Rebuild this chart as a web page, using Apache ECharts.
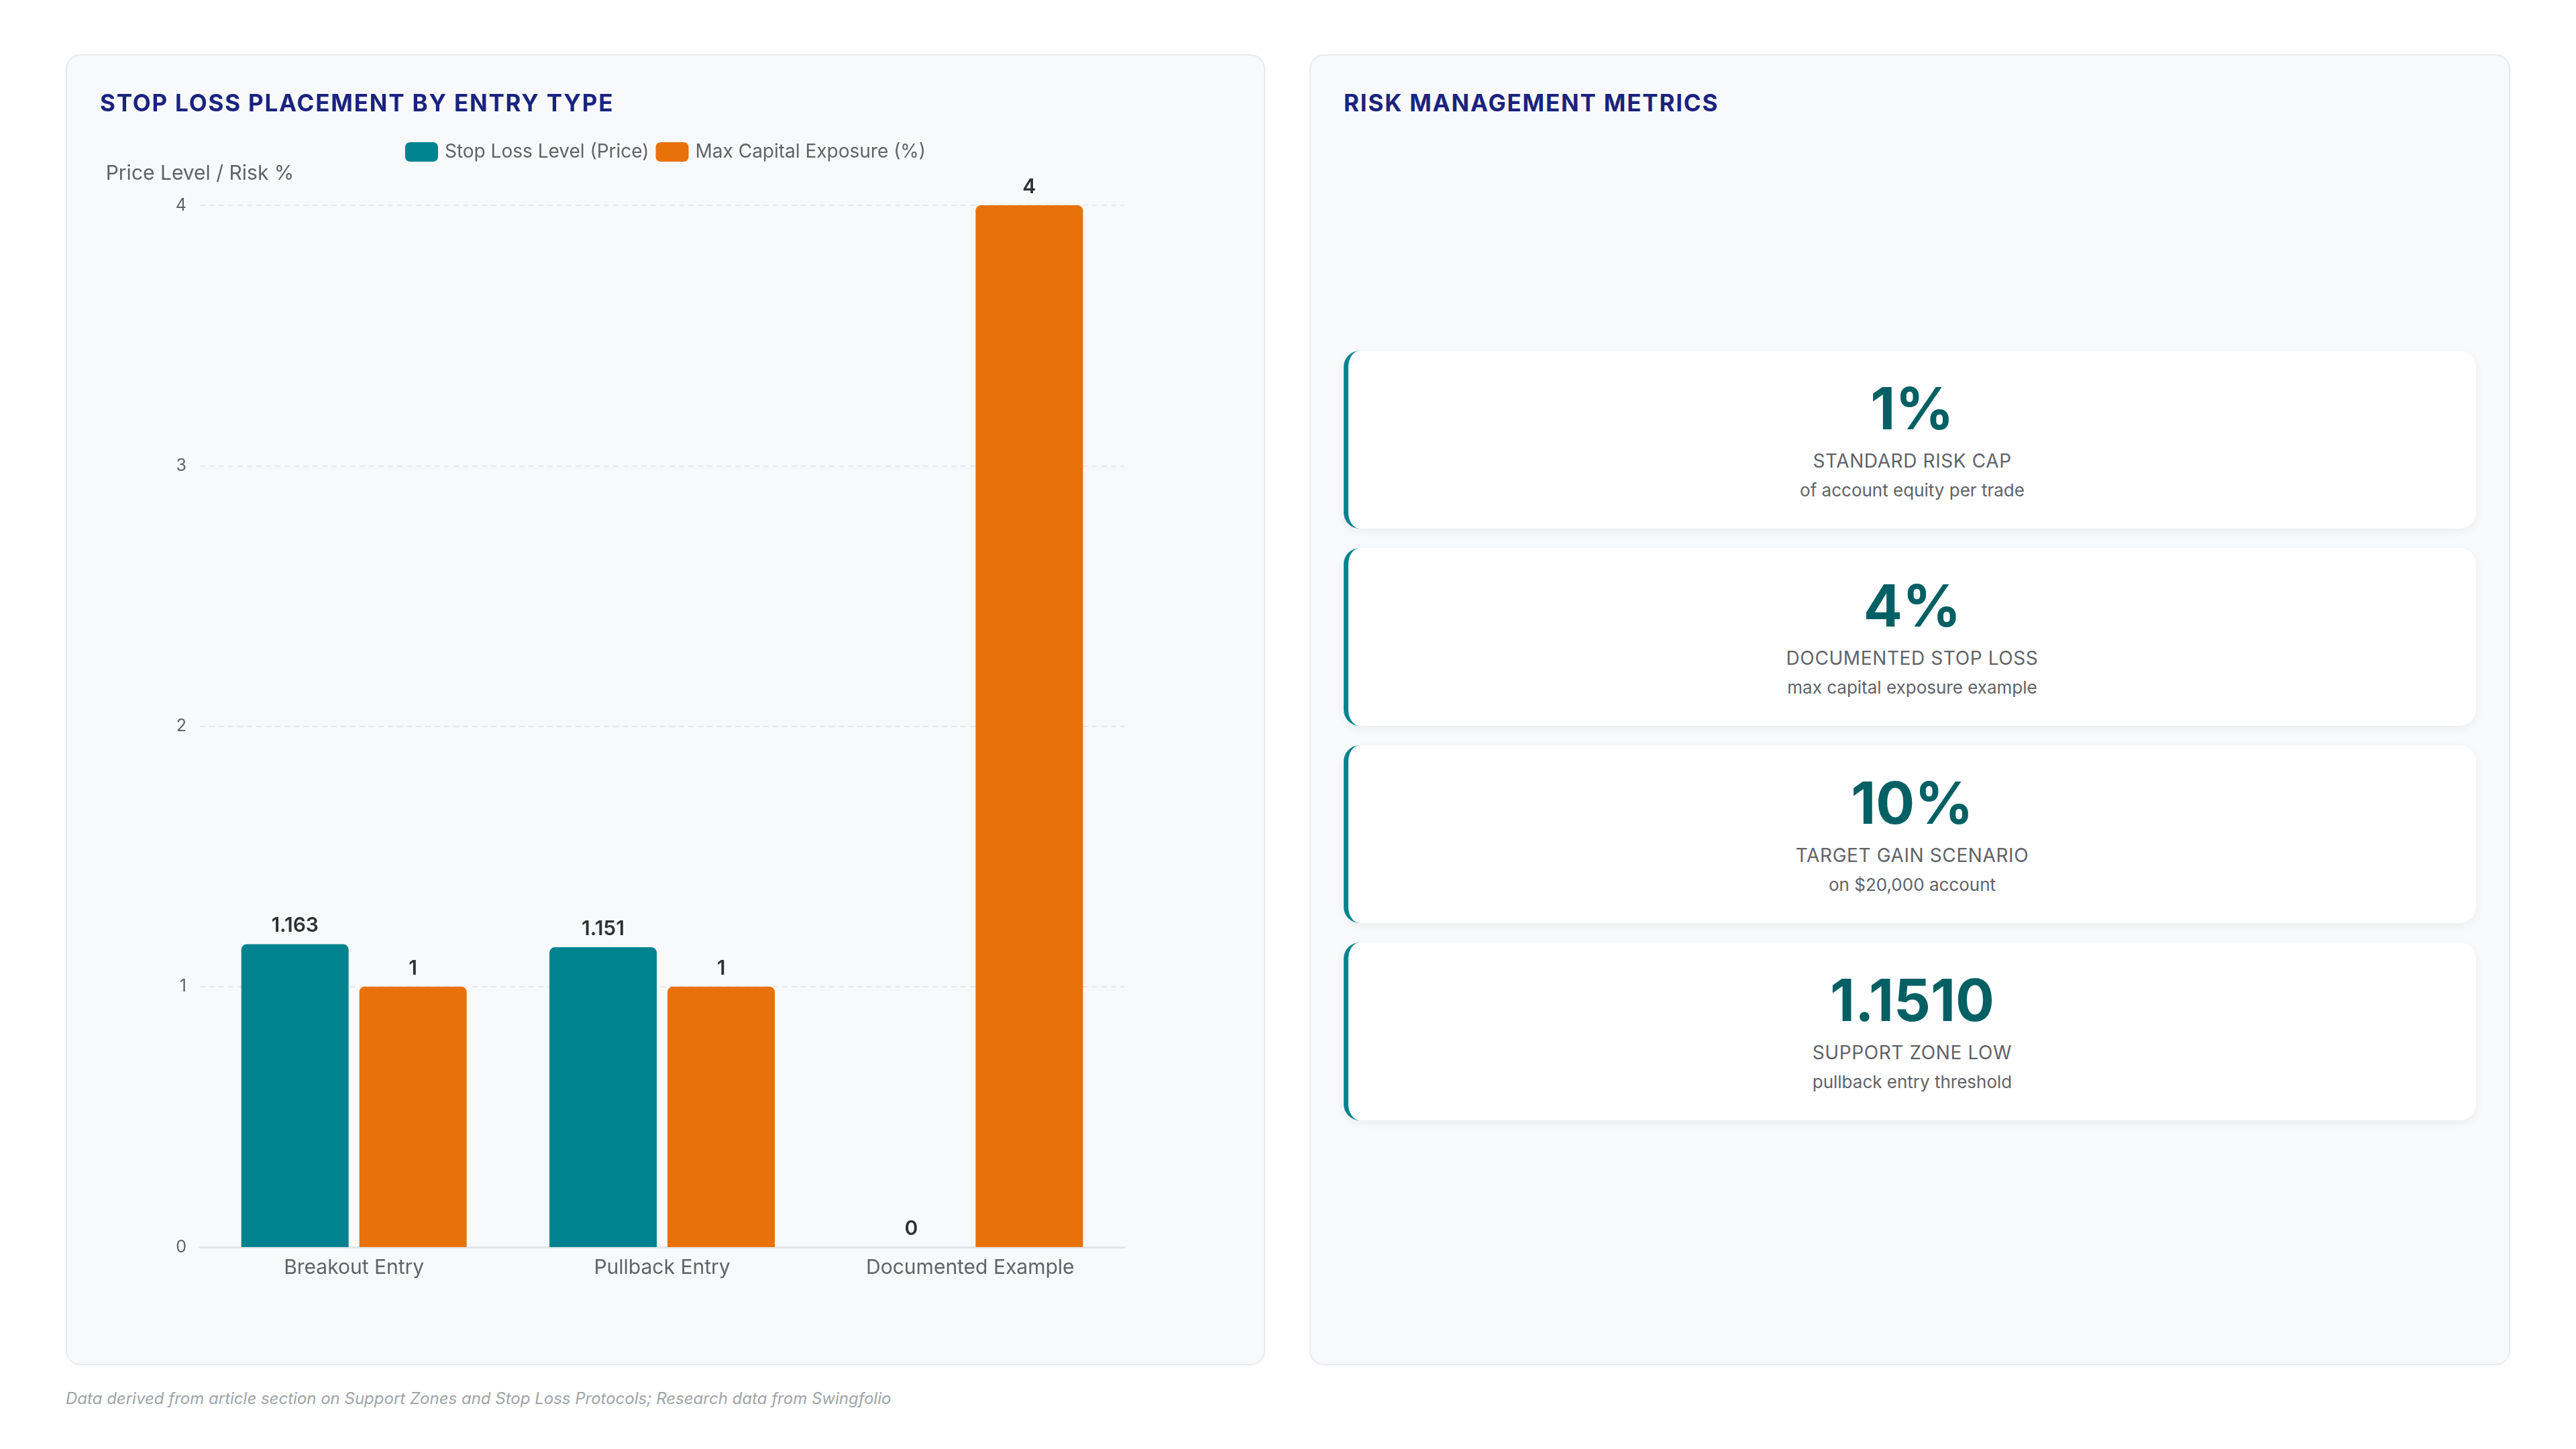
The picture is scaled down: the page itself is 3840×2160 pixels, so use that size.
<!DOCTYPE html>
<html>
<head>
<meta charset="utf-8">
<script src="https://cdn.jsdelivr.net/npm/echarts@6/dist/echarts.min.js"></script>
<style>
    html, body {
        margin: 0;
        padding: 0;
        width: 3840px;
        height: 2160px;
        background: #ffffff;
        font-family: Inter, "Noto Sans", sans-serif;
    }
    .card {
        position: absolute;
        top: 81px;
        height: 1954px;
        box-sizing: border-box;
        background: #f8f9fb;
        border: 2px solid #e8eaed;
        border-radius: 22px;
        box-shadow: 0 2px 6px rgba(0, 0, 0, 0.03);
    }
    #leftCard { left: 98px; width: 1788px; }
    #rightCard { left: 1952px; width: 1790px; }
    .card h2 {
        position: absolute;
        left: 49px;
        top: 70px;
        margin: 0;
        transform: translateY(-50%);
        font-size: 35px;
        font-weight: 700;
        letter-spacing: 1.8px;
        color: #1a237e;
        z-index: 2;
    }
    #chart {
        position: absolute;
        left: 0; top: 0; right: 0; bottom: 0;
    }
    #kpis {
        position: absolute;
        left: 49px;
        right: 49px;
        top: 440px;
    }
    .kpi {
        box-sizing: border-box;
        height: 265px;
        margin-bottom: 29px;
        background: #ffffff;
        border-left: 7px solid #00838f;
        border-radius: 24px;
        box-shadow: 0 4px 14px rgba(0, 0, 0, 0.05);
        text-align: center;
        padding-top: 33px;
    }
    .kpi .value {
        font-size: 86px;
        font-weight: 700;
        line-height: 106px;
        color: #006064;
    }
    .kpi .label {
        margin-top: 6px;
        font-size: 28px;
        line-height: 38px;
        font-weight: 400;
        letter-spacing: 0.6px;
        color: #5f6368;
    }
    .kpi .note {
        margin-top: 7px;
        font-size: 26px;
        line-height: 36px;
        color: #5f6368;
    }
    #footer {
        position: absolute;
        left: 98px;
        top: 2084px;
        transform: translateY(-50%);
        font-size: 24px;
        font-style: italic;
        color: #a0a4a8;
    }
</style>
</head>
<body>
<div class="card" id="leftCard">
    <h2>STOP LOSS PLACEMENT BY ENTRY TYPE</h2>
    <div id="chart"></div>
</div>
<div class="card" id="rightCard">
    <h2>RISK MANAGEMENT METRICS</h2>
    <div id="kpis"></div>
</div>
<div id="footer">Data derived from article section on Support Zones and Stop Loss Protocols; Research data from Swingfolio</div>

<script>
// chart data
const categories = ['Breakout Entry', 'Pullback Entry', 'Documented Example'];
const stopLossLevel = [1.163, 1.151, 0];
const maxCapitalExposure = [1, 1, 4];
const seriesNames = ['Stop Loss Level (Price)', 'Max Capital Exposure (%)'];

// metric cards
const kpiValues = ['1%', '4%', '10%', '1.1510'];
const kpiLabels = ['STANDARD RISK CAP', 'DOCUMENTED STOP LOSS', 'TARGET GAIN SCENARIO', 'SUPPORT ZONE LOW'];
const kpiNotes = ['of account equity per trade', 'max capital exposure example', 'on $20,000 account', 'pullback entry threshold'];

const kpiBox = document.getElementById('kpis');
kpiValues.forEach((v, i) => {
    const el = document.createElement('div');
    el.className = 'kpi';
    el.innerHTML = `<div class="value">${v}</div><div class="label">${kpiLabels[i]}</div><div class="note">${kpiNotes[i]}</div>`;
    kpiBox.appendChild(el);
});

const chart = echarts.init(document.getElementById('chart'));

const barLabel = {
    show: true,
    position: 'top',
    distance: 12,
    fontSize: 30,
    fontWeight: 600,
    color: '#2d3134',
    fontFamily: 'Inter'
};

chart.setOption({
    textStyle: { fontFamily: 'Inter' },
    legend: {
        data: seriesNames,
        top: 124,
        left: 'center',
        itemWidth: 49,
        itemHeight: 29,
        itemGap: 10,
        icon: 'roundRect',
        textStyle: { fontSize: 28, color: '#5f6368', fontFamily: 'Inter', padding: [0, 0, 0, 5] }
    },
    grid: {
        left: 198,
        right: 208,
        top: 223,
        bottom: 174,
        containLabel: false
    },
    xAxis: {
        type: 'category',
        data: categories,
        axisTick: { show: false },
        axisLine: { lineStyle: { color: '#e3e5e8', width: 3 } },
        axisLabel: { fontSize: 30, color: '#5f6368', margin: 16 }
    },
    yAxis: {
        type: 'value',
        min: 0,
        max: 4,
        interval: 1,
        name: 'Price Level / Risk %',
        nameGap: 32,
        nameTextStyle: { fontSize: 30, color: '#5f6368' },
        axisLine: { show: false },
        axisTick: { show: false },
        axisLabel: { fontSize: 25, color: '#5f6368', margin: 20 },
        splitLine: { lineStyle: { color: '#e6e8eb', type: [8, 6], width: 2 } }
    },
    series: [
        {
            name: seriesNames[0],
            type: 'bar',
            data: stopLossLevel,
            barWidth: 160,
            barGap: '10%',
            itemStyle: { color: '#00838f', borderRadius: [8, 8, 0, 0] },
            label: barLabel
        },
        {
            name: seriesNames[1],
            type: 'bar',
            data: maxCapitalExposure,
            barWidth: 160,
            itemStyle: { color: '#e8710a', borderRadius: [8, 8, 0, 0] },
            label: barLabel
        }
    ]
});
</script>
</body>
</html>
